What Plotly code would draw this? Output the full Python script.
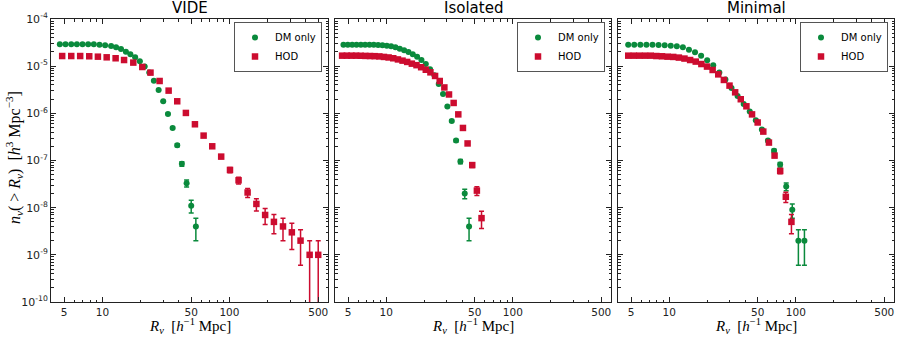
import plotly.graph_objects as go

# ---- data ----
panel_titles = ["VIDE", "Isolated", "Minimal"]
series_names = ["DM only", "HOD"]

# VIDE
r_vide_dm = [4.62, 5.12, 5.68, 6.29, 6.97, 7.72, 8.55, 9.48, 10.5, 11.7, 12.8, 14.0, 15.3, 16.6,
             18.1, 19.7, 21.5, 23.4, 25.4, 27.7, 30.1, 32.8, 35.7, 38.8, 42.2, 46.0, 50.0, 54.4]
n_vide_dm = [2.90e-5, 2.90e-5, 2.90e-5, 2.90e-5, 2.90e-5, 2.90e-5, 2.90e-5, 2.86e-5, 2.77e-5, 2.68e-5,
             2.51e-5, 2.31e-5, 2.03e-5, 1.78e-5, 1.54e-5, 1.27e-5, 9.8e-6, 7.3e-6, 4.93e-6, 3.13e-6,
             1.80e-6, 9.7e-7, 4.91e-7, 2.11e-7, 8.5e-8, 3.3e-8, 1.1e-8, 4.0e-9]
e_vide_dm = [1.70e-7, 1.70e-7, 1.70e-7, 1.70e-7, 1.70e-7, 1.70e-7, 1.70e-7, 1.69e-7, 1.66e-7, 1.64e-7,
             1.58e-7, 1.52e-7, 1.42e-7, 1.33e-7, 1.24e-7, 1.13e-7, 9.9e-8, 8.5e-8, 7.0e-8, 5.6e-8,
             4.2e-8, 3.1e-8, 2.2e-8, 1.45e-8, 9.2e-9, 5.7e-9, 3.3e-9, 2.0e-9]

r_vide_hod = [4.82, 5.68, 6.68, 7.87, 9.21, 10.8, 12.7, 14.8, 17.5, 20.6, 23.9, 28.2, 33.2, 38.8, 45.4,
              53.5, 62.6, 73.2, 86.1, 101, 118, 139, 163, 191, 224, 264, 310, 363, 428, 500]
n_vide_hod = [1.64e-5, 1.64e-5, 1.64e-5, 1.62e-5, 1.59e-5, 1.54e-5, 1.47e-5, 1.35e-5, 1.19e-5, 9.6e-6,
              7.3e-6, 4.85e-6, 3.03e-6, 1.80e-6, 1.02e-6, 5.86e-7, 3.37e-7, 2.00e-7, 1.21e-7, 6.3e-8,
              3.8e-8, 2.1e-8, 1.2e-8, 7e-9, 5e-9, 4e-9, 3e-9, 2e-9, 1e-9, 1e-9]
e_vide_hod = [1.28e-7, 1.28e-7, 1.28e-7, 1.27e-7, 1.26e-7, 1.24e-7, 1.21e-7, 1.16e-7, 1.09e-7, 9.8e-8,
              8.5e-8, 7.0e-8, 5.5e-8, 4.2e-8, 3.2e-8, 2.4e-8, 1.84e-8, 1.41e-8, 1.1e-8, 7.9e-9,
              6.2e-9, 4.6e-9, 3.5e-9, 2.6e-9, 2.2e-9, 2.0e-9, 1.7e-9, 1.4e-9, 1.0e-9, 1.0e-9]

# Isolated
r_iso_dm = [4.59, 4.97, 5.38, 5.82, 6.30, 6.81, 7.37, 7.97, 8.63, 9.33, 10.10, 10.93, 11.82, 12.79, 13.84,
            14.98, 16.20, 17.53, 18.97, 20.52, 22.20, 24.02, 25.99, 28.12, 30.42, 32.92, 35.62, 38.54,
            41.70, 45.11]
n_iso_dm = [2.86e-5, 2.86e-5, 2.86e-5, 2.86e-5, 2.86e-5, 2.86e-5, 2.86e-5, 2.86e-5, 2.81e-5, 2.77e-5,
            2.72e-5, 2.64e-5, 2.51e-5, 2.35e-5, 2.17e-5, 2.00e-5, 1.78e-5, 1.59e-5, 1.35e-5, 1.11e-5,
            8.6e-6, 6.4e-6, 4.2e-6, 2.58e-6, 1.39e-6, 6.9e-7, 2.64e-7, 9.5e-8, 2.0e-8, 4.0e-9]
e_iso_dm = [1.69e-7, 1.69e-7, 1.69e-7, 1.69e-7, 1.69e-7, 1.69e-7, 1.69e-7, 1.69e-7, 1.68e-7, 1.66e-7,
            1.65e-7, 1.62e-7, 1.58e-7, 1.53e-7, 1.47e-7, 1.41e-7, 1.33e-7, 1.26e-7, 1.16e-7, 1.05e-7,
            9.3e-8, 8.0e-8, 6.5e-8, 5.1e-8, 3.7e-8, 2.6e-8, 1.6e-8, 9.7e-9, 4.5e-9, 2.0e-9]

r_iso_hod = [4.48, 4.88, 5.31, 5.78, 6.29, 6.84, 7.44, 8.10, 8.82, 9.59, 10.44, 11.36, 12.37, 13.45, 14.64,
             15.93, 17.34, 18.87, 20.53, 22.34, 24.31, 26.46, 28.79, 31.33, 34.09, 37.10, 40.37, 43.93,
             47.81, 52.02, 56.61]
n_iso_hod = [1.67e-5, 1.67e-5, 1.67e-5, 1.67e-5, 1.66e-5, 1.65e-5, 1.64e-5, 1.63e-5, 1.61e-5, 1.57e-5,
             1.53e-5, 1.47e-5, 1.39e-5, 1.31e-5, 1.23e-5, 1.13e-5, 1.05e-5, 9.5e-6, 8.4e-6, 7.4e-6,
             6.2e-6, 4.85e-6, 3.54e-6, 2.51e-6, 1.66e-6, 9.5e-7, 4.9e-7, 2.3e-7, 8.0e-8, 2.3e-8, 6.0e-9]
e_iso_hod = [1.29e-7, 1.29e-7, 1.29e-7, 1.29e-7, 1.29e-7, 1.28e-7, 1.28e-7, 1.28e-7, 1.27e-7, 1.25e-7,
             1.24e-7, 1.21e-7, 1.18e-7, 1.14e-7, 1.11e-7, 1.06e-7, 1.02e-7, 9.7e-8, 9.2e-8, 8.6e-8,
             7.9e-8, 7.0e-8, 5.9e-8, 5.0e-8, 4.1e-8, 3.1e-8, 2.2e-8, 1.5e-8, 8.9e-9, 4.8e-9, 2.4e-9]

# Minimal
r_min_dm = [4.74, 5.29, 5.91, 6.60, 7.37, 8.23, 9.20, 10.27, 11.47, 12.81, 14.31, 15.98, 17.86, 19.94,
            22.27, 24.88, 27.79, 31.04, 34.67, 38.73, 43.25, 48.31, 53.96, 60.27, 67.32, 75.19, 83.99,
            93.80, 104.8, 117.0]
n_min_dm = [2.86e-5, 2.86e-5, 2.86e-5, 2.86e-5, 2.86e-5, 2.81e-5, 2.77e-5, 2.72e-5, 2.64e-5, 2.51e-5,
            2.24e-5, 1.97e-5, 1.67e-5, 1.33e-5, 1.04e-5, 7.3e-6, 5.19e-6, 3.45e-6, 2.34e-6, 1.58e-6,
            1.09e-6, 7.1e-7, 4.52e-7, 2.64e-7, 1.60e-7, 8.2e-8, 2.8e-8, 9.0e-9, 2.0e-9, 2.0e-9]
e_min_dm = [1.69e-7, 1.69e-7, 1.69e-7, 1.69e-7, 1.69e-7, 1.68e-7, 1.66e-7, 1.65e-7, 1.62e-7, 1.58e-7,
            1.50e-7, 1.40e-7, 1.29e-7, 1.15e-7, 1.02e-7, 8.5e-8, 7.2e-8, 5.9e-8, 4.8e-8, 4.0e-8,
            3.3e-8, 2.7e-8, 2.1e-8, 1.6e-8, 1.26e-8, 9.1e-9, 5.3e-9, 3.0e-9, 1.4e-9, 1.4e-9]

r_min_hod = [4.74, 5.25, 5.81, 6.44, 7.14, 7.91, 8.76, 9.70, 10.75, 11.91, 13.19, 14.62, 16.19, 17.94,
             19.88, 22.02, 24.39, 27.02, 29.94, 33.17, 36.75, 40.71, 45.10, 49.96, 55.36, 61.33, 67.94,
             75.27, 83.39, 92.38]
n_min_hod = [1.67e-5, 1.67e-5, 1.67e-5, 1.67e-5, 1.67e-5, 1.64e-5, 1.62e-5, 1.59e-5, 1.57e-5, 1.52e-5,
             1.45e-5, 1.35e-5, 1.25e-5, 1.11e-5, 9.8e-6, 8.3e-6, 6.7e-6, 5.1e-6, 3.87e-6, 2.79e-6,
             1.99e-6, 1.41e-6, 9.5e-7, 6.4e-7, 4.1e-7, 2.4e-7, 1.27e-7, 6.0e-8, 1.7e-8, 5.0e-9]
e_min_hod = [1.29e-7, 1.29e-7, 1.29e-7, 1.29e-7, 1.29e-7, 1.28e-7, 1.27e-7, 1.26e-7, 1.25e-7, 1.23e-7,
             1.20e-7, 1.16e-7, 1.12e-7, 1.05e-7, 9.9e-8, 9.1e-8, 8.2e-8, 7.1e-8, 6.2e-8, 5.3e-8,
             4.5e-8, 3.8e-8, 3.1e-8, 2.5e-8, 2.0e-8, 1.55e-8, 1.13e-8, 7.7e-9, 4.1e-9, 2.2e-9]

x_tick_vals = [5, 10, 50, 100, 500]
x_tick_text = ["5", "10", "50", "100", "500"]
y_tick_vals = [1e-10, 1e-9, 1e-8, 1e-7, 1e-6, 1e-5, 1e-4]
y_tick_text = ["10<sup>-10</sup>", "10<sup>-9</sup>", "10<sup>-8</sup>", "10<sup>-7</sup>",
               "10<sup>-6</sup>", "10<sup>-5</sup>", "10<sup>-4</sup>"]

x_label = "<i>R</i><sub><i>v</i></sub>  [<i>h</i><sup>−1</sup> Mpc]"
y_label = "<i>n</i><sub><i>v</i></sub>( > <i>R</i><sub><i>v</i></sub>)  [<i>h</i><sup>3</sup> Mpc<sup>−3</sup>]"

GREEN = "#0a8a3c"
RED = "#cc0c2f"
W, H = 899, 339

panels = [
    (r_vide_dm, n_vide_dm, e_vide_dm, r_vide_hod, n_vide_hod, e_vide_hod),
    (r_iso_dm, n_iso_dm, e_iso_dm, r_iso_hod, n_iso_hod, e_iso_hod),
    (r_min_dm, n_min_dm, e_min_dm, r_min_hod, n_min_hod, e_min_hod),
]

# panel boxes in pixels (left, right), shared top/bottom
x_px = [(51, 328), (335, 611), (618, 894)]
y_top, y_bot = 19, 302

x_minor = [4, 6, 7, 8, 9, 20, 30, 40, 60, 70, 80, 90, 200, 300, 400]
y_minor = []
for d in range(-10, -4):
    for k in range(2, 10):
        y_minor.append(k * 10.0 ** d)

fig = go.Figure()
layout = dict(
    width=W, height=H,
    margin=dict(l=0, r=0, t=0, b=0, autoexpand=False),
    paper_bgcolor="white", plot_bgcolor="white",
    font=dict(family="DejaVu Sans", size=10, color="black"),
    showlegend=True,
    annotations=[],
)

axis_common = dict(
    showline=True, linecolor="#222", linewidth=1, mirror="allticks",
    ticks="inside", ticklen=5, tickwidth=1, tickcolor="#222",
    showgrid=False, zeroline=False, automargin=False,
)

for i, (rd, nd, ed, rh, nh, eh) in enumerate(panels):
    sfx = "" if i == 0 else str(i + 1)
    leg = "legend" + sfx
    fig.add_trace(go.Scatter(
        x=rd, y=nd, mode="markers", name=series_names[0],
        xaxis="x" + sfx, yaxis="y" + sfx, legend=leg,
        marker=dict(symbol="circle", size=6, color=GREEN, line=dict(width=0)),
        error_y=dict(type="data", array=ed, visible=True, color=GREEN, thickness=1.5, width=2.5),
    ))
    fig.add_trace(go.Scatter(
        x=rh, y=nh, mode="markers", name=series_names[1],
        xaxis="x" + sfx, yaxis="y" + sfx, legend=leg,
        marker=dict(symbol="square", size=6.5, color=RED, line=dict(width=0)),
        error_y=dict(type="data", array=eh, visible=True, color=RED, thickness=1.5, width=2.5),
    ))

    x0, x1 = x_px[i]
    layout["xaxis" + sfx] = dict(
        axis_common,
        type="log", range=[0.595, 2.776],
        domain=[x0 / W, x1 / W],
        anchor="y" + sfx,
        tickvals=x_tick_vals, ticktext=x_tick_text,
        tickfont=dict(size=10.5, color="#222"),
        minor=dict(ticks="inside", ticklen=2.5, tickvals=x_minor, tickcolor="#222", showgrid=False),
    )
    layout["yaxis" + sfx] = dict(
        axis_common,
        type="log", range=[-10, -4],
        domain=[1 - y_bot / H, 1 - y_top / H],
        anchor="x" + sfx,
        tickvals=y_tick_vals, ticktext=y_tick_text,
        showticklabels=(i == 0),
        tickfont=dict(size=11, color="#222"),
        minor=dict(ticks="inside", ticklen=2.5, tickvals=y_minor, tickcolor="#222", showgrid=False),
    )

    layout[leg] = dict(
        x=(x1 - 6) / W, y=1 - (y_top + 3) / H, xanchor="right", yanchor="top",
        xref="paper", yref="paper",
        bgcolor="white", bordercolor="#555", borderwidth=1,
        font=dict(family="DejaVu Sans", size=10, color="black"),
        tracegroupgap=0, itemwidth=30,
    )
    # panel title
    layout["annotations"].append(dict(
        text=panel_titles[i], x=(x0 + x1) / 2 / W, y=1 - y_top / H,
        xref="paper", yref="paper", xanchor="center", yanchor="bottom",
        showarrow=False, yshift=0, font=dict(family="DejaVu Sans", size=15, color="black"),
    ))
    # x-axis label
    layout["annotations"].append(dict(
        text=x_label, x=(x0 + x1) / 2 / W, y=1 - 326 / H,
        xref="paper", yref="paper", xanchor="center", yanchor="middle",
        showarrow=False, font=dict(family="Liberation Serif", size=15, color="black"),
    ))

# y-axis label
layout["annotations"].append(dict(
    text=y_label, x=14 / W, y=1 - 158 / H, textangle=-90,
    xref="paper", yref="paper", xanchor="center", yanchor="middle",
    showarrow=False, font=dict(family="Liberation Serif", size=16, color="black"),
))

fig.update_layout(layout)
# the default page has an 8px body margin; drop it so the figure sits at the window origin
fig.write_html("out.html", config={"displayModeBar": False},
               post_script="document.body.style.margin='0';document.body.style.padding='0';")
